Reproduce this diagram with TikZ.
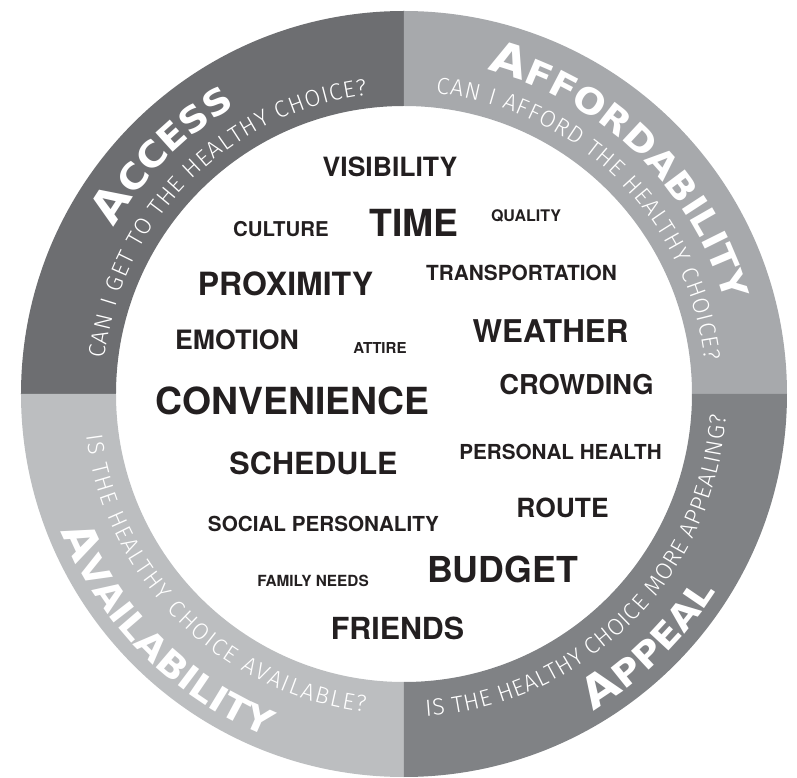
\documentclass[tikz,border=0pt]{standalone}
\usepackage{fontspec}
\setmainfont{TeX Gyre Heros}
\newfontfamily\wordfont{TeX Gyre Heros}
\newfontfamily\titlefont{DejaVu Sans}[FakeStretch=1.08]
\newfontfamily\subfont{Fira Sans}[UprightFont=* Light]
\usetikzlibrary{decorations.text}
\definecolor{accessc}{HTML}{6D6E71}
\definecolor{affordc}{HTML}{A7A9AC}
\definecolor{availc}{HTML}{BCBEC0}
\definecolor{appealc}{HTML}{808285}
\definecolor{ink}{HTML}{231F20}
\tikzset{
  word/.style={anchor=base, text=ink, inner sep=0pt,
    font=\wordfont\bfseries\fontsize{#1}{#1}\selectfont},
}
% fitted text along an arc: radius, start, end, text
\newcommand\ringtext[4]{%
  \path[decorate,decoration={text along path,text color=white,
    text align={fit to path},text={#4}}]
    (#2:#1) arc[start angle=#2,end angle=#3,radius=#1];}
% centred text along an arc: radius, start, end, text
\newcommand\ringtitle[4]{%
  \path[decorate,decoration={text along path,text color=white,
    text align=center,text={#4}}]
    (#2:#1) arc[start angle=#2,end angle=#3,radius=#1];}
\newcommand\bigA{|\titlefont\bfseries\fontsize{33}{33}\selectfont|}
\newcommand\smallT{|\titlefont\bfseries\fontsize{26.5}{26.5}\selectfont|}
\newcommand\subF{|\subfont\fontsize{17.5}{17.5}\selectfont|}
\begin{document}
\begin{tikzpicture}[x=0.75pt,y=0.75pt]
\useasboundingbox (-404,-384) rectangle (393,394);
% ring quadrants
\fill[accessc] (90:383) arc[start angle=90,end angle=180,radius=383]
  -- (180:288) arc[start angle=180,end angle=90,radius=288] -- cycle;
\fill[affordc] (0:383) arc[start angle=0,end angle=90,radius=383]
  -- (90:288) arc[start angle=90,end angle=0,radius=288] -- cycle;
\fill[availc] (180:383) arc[start angle=180,end angle=270,radius=383]
  -- (270:288) arc[start angle=270,end angle=180,radius=288] -- cycle;
\fill[appealc] (270:383) arc[start angle=270,end angle=360,radius=383]
  -- (360:288) arc[start angle=360,end angle=270,radius=288] -- cycle;
% titles
\ringtitle{334}{175.25}{95.25}{\bigA A\smallT CCESS}
\ringtitle{334}{85.8}{5.8}{\bigA A\smallT FFORDABILITY}
\ringtitle{369}{185}{265}{\bigA A\smallT VAILABILITY}
\ringtitle{369}{274.3}{354.3}{\bigA A\smallT PPEAL}
% subtitles
\ringtext{301.5}{173.3}{97}{\subF CAN I GET TO THE HEALTHY CHOICE?}
\ringtext{302.5}{84}{6.3}{\subF CAN I AFFORD THE HEALTHY CHOICE?}
\ringtext{320.5}{187.4}{263}{\subF IS THE HEALTHY CHOICE AVAILABLE?}
\ringtext{323}{273.9}{356.1}{\subF IS THE HEALTHY CHOICE MORE APPEALING?}
% words
\node[word=19.9] (visibility) at (-14,217) {VISIBILITY};
\node[word=28] (time) at (10,157) {TIME};
\node[word=15.3] (culture) at (-123,157) {CULTURE};
\node[word=12] (quality) at (122,172) {QUALITY};
\node[word=24] (proximity) at (-118.5,98) {PROXIMITY};
\node[word=15.6] (transport) at (117.5,113) {TRANSPORTATION};
\node[word=20] (emotion) at (-167,44) {EMOTION};
\node[word=11.3] (attire) at (-24,40) {ATTIRE};
\node[word=23.5] (weather) at (146.5,51) {WEATHER};
\node[word=20.5] (crowding) at (172.5,-1) {CROWDING};
\node[word=28] (convenience) at (-111.5,-21) {CONVENIENCE};
\node[word=22.9] (schedule) at (-90.5,-81) {SCHEDULE};
\node[word=15.5] (health) at (156.5,-66) {PERSONAL HEALTH};
\node[word=19.8] (route) at (158.5,-124) {ROUTE};
\node[word=15.5] (social) at (-80.5,-138) {SOCIAL PERSONALITY};
\node[word=11.5] (family) at (-91,-193) {FAMILY NEEDS};
\node[word=26.8] (budget) at (98.5,-189) {BUDGET};
\node[word=22.8] (friends) at (-6.5,-246) {FRIENDS};
\end{tikzpicture}
\end{document}
